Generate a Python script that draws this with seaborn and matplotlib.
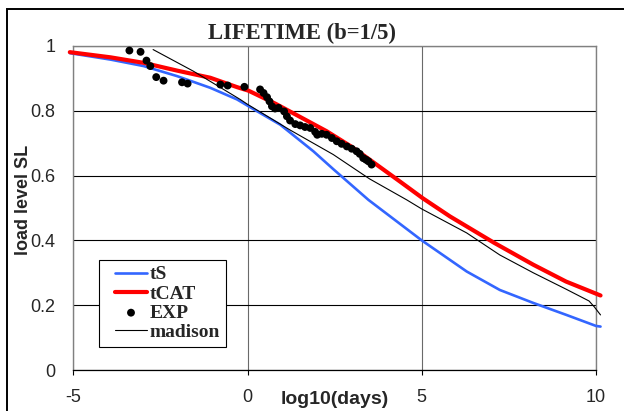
import matplotlib
matplotlib.use("Agg")
import matplotlib.pyplot as plt
from matplotlib.lines import Line2D
from matplotlib.collections import PathCollection
from matplotlib.legend_handler import HandlerLine2D, HandlerPathCollection
from matplotlib.patches import Rectangle
import seaborn as sns

# ---- data -------------------------------------------------------------
ts_x = [-5.1, -3.93, -2.98, -2.02, -1.07, -0.3, 0.03, 0.94, 1.89, 2.46,
        3.47, 5.0, 6.29, 7.24, 8.2, 9.15, 10.0, 10.13]
ts_y = [0.978, 0.958, 0.938, 0.907, 0.871, 0.835, 0.814, 0.757, 0.675, 0.620,
        0.525, 0.400, 0.304, 0.247, 0.207, 0.170, 0.136, 0.134]

tcat_x = [-5.1, -3.93, -2.98, -2.02, -1.07, -0.3, 0.03, 0.8, 1.51, 2.27,
          3.0, 3.56, 4.37, 5.03, 5.81, 7.07, 8.2, 9.14, 10.13]
tcat_y = [0.981, 0.965, 0.948, 0.924, 0.902, 0.873, 0.862, 0.822, 0.781, 0.737,
          0.688, 0.645, 0.582, 0.530, 0.474, 0.393, 0.325, 0.273, 0.230]

madison_x = [-2.71, -1.55, -0.21, 0.0, 1.2, 2.46, 3.5, 4.57, 5.0, 6.29,
             7.24, 8.2, 9.15, 9.8, 9.95, 10.13]
madison_y = [0.989, 0.922, 0.835, 0.820, 0.742, 0.665, 0.590, 0.525, 0.497, 0.423,
             0.355, 0.300, 0.249, 0.213, 0.195, 0.170]

exp_x = [-3.39, -3.07, -2.90, -2.79, -2.62, -2.41, -1.88, -1.72, -0.78, -0.57,
         -0.09, 0.36, 0.46, 0.56, 0.63, 0.70, 0.79, 0.89, 1.05, 1.13,
         1.22, 1.37, 1.51, 1.65, 1.80, 1.94, 2.00, 2.13, 2.27, 2.42,
         2.56, 2.70, 2.85, 2.99, 3.13, 3.22, 3.32, 3.40, 3.47, 3.56]
exp_y = [0.986, 0.982, 0.955, 0.938, 0.904, 0.893, 0.888, 0.884, 0.881, 0.878,
         0.874, 0.866, 0.855, 0.842, 0.829, 0.814, 0.807, 0.809, 0.798, 0.783,
         0.770, 0.759, 0.755, 0.750, 0.747, 0.735, 0.726, 0.729, 0.726, 0.716,
         0.706, 0.698, 0.690, 0.683, 0.675, 0.667, 0.654, 0.649, 0.644, 0.634]

x_ticks = [-5, 0, 5, 10]
x_tick_labels = ["-5", "0", "5", "10"]
y_ticks = [0, 0.2, 0.4, 0.6, 0.8, 1]
y_tick_labels = ["0", "0.2", "0.4", "0.6", "0.8", "1"]

title = "LIFETIME (b=1/5)"
x_label = "log10(days)"
y_label = "load level SL"

# ---- style ------------------------------------------------------------
sns.set_style("white")
plt.rcParams["font.family"] = ["Liberation Sans", "DejaVu Sans"]
plt.rcParams["axes.unicode_minus"] = False

BLUE = "#3366FF"
RED = "#FF0000"

fig = plt.figure(figsize=(6.24, 4.11), dpi=100)
ax = fig.add_axes([73.3 / 624, 1 - 370 / 411, (596 - 73.3) / 624, (370 - 46) / 411])

sns.lineplot(x=ts_x, y=ts_y, ax=ax, color=BLUE, lw=1.9, label="tS",
             sort=False, estimator=None, clip_on=False, zorder=3)
sns.lineplot(x=tcat_x, y=tcat_y, ax=ax, color=RED, lw=3.0, label="tCAT",
             sort=False, estimator=None, clip_on=False, zorder=4)
sns.scatterplot(x=exp_x, y=exp_y, ax=ax, color="black", s=32, edgecolor="none",
                label="EXP", zorder=5)
sns.lineplot(x=madison_x, y=madison_y, ax=ax, color="black", lw=0.8, label="madison",
             sort=False, estimator=None, clip_on=False, zorder=6)

ax.set_xlim(-5, 10)
ax.set_ylim(0, 1)
ax.set_xticks(x_ticks)
ax.set_xticklabels(x_tick_labels)
ax.set_yticks(y_ticks)
ax.set_yticklabels(y_tick_labels)

ax.tick_params(axis="x", direction="out", length=3.8, width=0.8, color="black",
               pad=10, labelsize=13, bottom=True)
ax.tick_params(axis="y", length=0, pad=13, labelsize=13)

# gridlines: black horizontal, dark grey vertical
ax.yaxis.grid(True, color="black", lw=0.8)
ax.xaxis.grid(True, color="#6a6a6a", lw=0.8)
ax.set_axisbelow(True)

for side in ("left", "top", "right"):
    ax.spines[side].set_color("#808080")
    ax.spines[side].set_linewidth(1.0)
ax.spines["bottom"].set_color("black")
ax.spines["bottom"].set_linewidth(0.9)

ax.set_xlabel(x_label, fontsize=14, fontweight="bold", va="center")
ax.xaxis.set_label_coords((335 - 73.3) / 522.7, (370 - 399) / 324)
ax.set_ylabel(y_label, fontsize=13, fontweight="bold", va="center")
ax.yaxis.set_label_coords((24 - 73.3) / 522.7, (370 - 200) / 324)

fig.text(302 / 624, 1 - 38.7 / 411, title, ha="center", va="baseline",
         fontsize=16.3, fontweight="bold", family=["Liberation Serif", "DejaVu Serif"])

# legend
handles, labels = ax.get_legend_handles_labels()
fs_leg = 14
xpad = 0.53
leg = ax.legend(handles, labels, loc="upper left",
                bbox_to_anchor=(99.3 / 624, 1 - 260 / 411),
                bbox_transform=fig.transFigure, borderaxespad=0,
                prop={"family": ["Liberation Serif", "DejaVu Serif"],
                      "weight": "bold", "size": fs_leg},
                frameon=True, fancybox=False, shadow=False,
                edgecolor="black", framealpha=1, borderpad=0.3,
                labelspacing=0.08, handlelength=1.6 + xpad, handletextpad=0.17,
                handler_map={Line2D: HandlerLine2D(xpad=xpad),
                             PathCollection: HandlerPathCollection(xpad=xpad)})
leg.get_frame().set_linewidth(0.8)
leg.set_zorder(10)

# outer chart frame
fig.patches.append(Rectangle((7 / 624, -0.5), 2.0, 1 - 9 / 411 + 0.5,
                             transform=fig.transFigure, fill=False,
                             edgecolor="black", lw=1.4, zorder=0))

fig.savefig("out.png", dpi=100)
